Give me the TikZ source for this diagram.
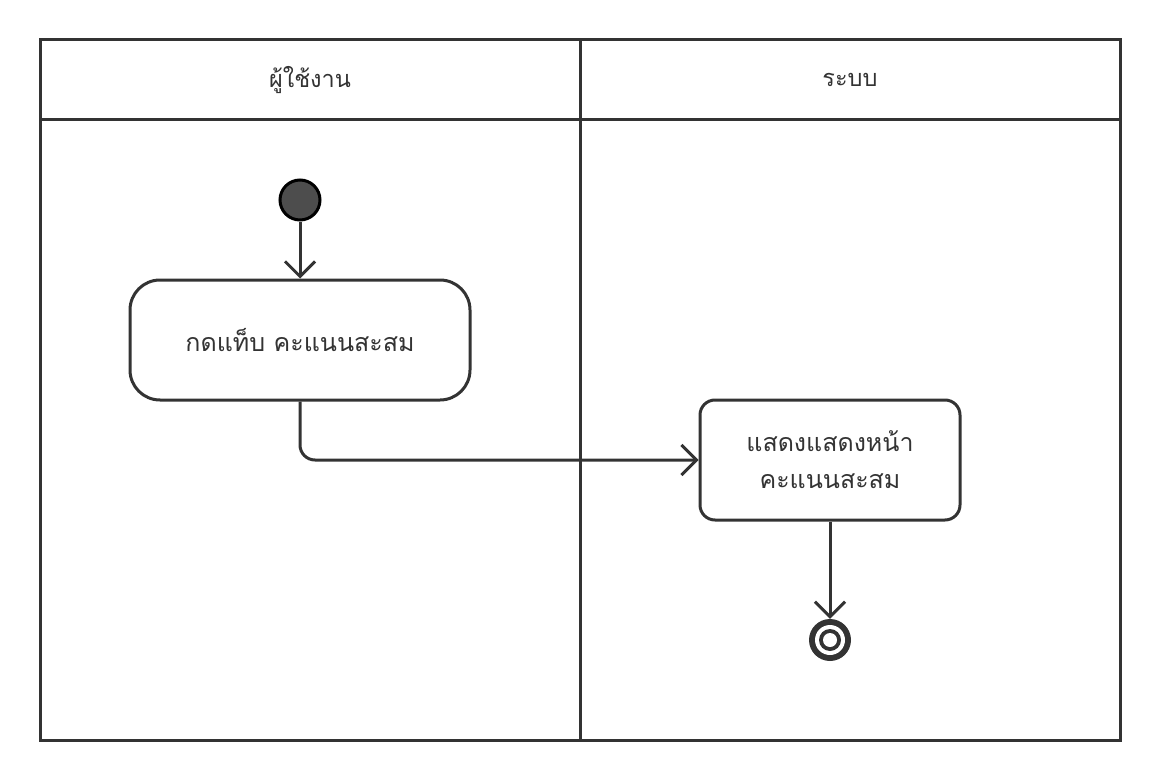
\documentclass[tikz,border=0pt]{standalone}
\usepackage{fontspec}
\newfontfamily\thai[Script=Thai]{Loma}
\usetikzlibrary{arrows.meta}
\definecolor{ln}{HTML}{333333}
\definecolor{startfill}{HTML}{4D4D4D}
\tikzset{
  lane/.style={draw=ln, line width=3pt},
  actbox/.style={draw=ln, line width=3pt, fill=white, align=center, font=\thai\fontsize{25}{37}\selectfont, text=ln, inner sep=0pt},
  flow/.style={draw=ln, line width=3pt, rounded corners=15pt, -{Straight Barb[length=15pt,width=30pt,line width=3pt]}},
  hdr/.style={font=\thai\fontsize{23.5}{28}\selectfont, text=ln},
}
\begin{document}
\begin{tikzpicture}[x=1pt,y=-1pt]
\useasboundingbox (0,0) rectangle (1160,781);
\draw[lane] (40,40) rectangle (1120,740);
\draw[lane] (40,120) -- (1120,120);
\draw[lane] (580,40) -- (580,740);
\node[hdr] (h1) at (310,80) {ผู้ใช้งาน};
\node[hdr] (h2) at (850,80) {ระบบ};
\node[circle, draw=black, line width=3pt, fill=startfill, minimum size=40pt, inner sep=0pt] (start) at (300,200) {};
\node[actbox, rounded corners=30pt, minimum width=340pt, minimum height=120pt] (a1) at (300,340) {กดแท็บ คะแนนสะสม};
\node[actbox, rounded corners=15pt, minimum width=260pt, minimum height=120pt] (a2) at (830,460) {แสดงแสดงหน้า\\คะแนนสะสม};
\node[circle, fill=ln, minimum size=42pt, inner sep=0pt] (end) at (830,640) {};
\fill[white] (end.center) circle (15pt);
\fill[ln] (end.center) circle (11pt);
\fill[white] (end.center) circle (7pt);
\draw[flow] (start) -- (a1);
\draw[flow] (a1.south) |- (a2.west);
\draw[flow] (a2.south) -- (end.north);
\end{tikzpicture}
\end{document}
